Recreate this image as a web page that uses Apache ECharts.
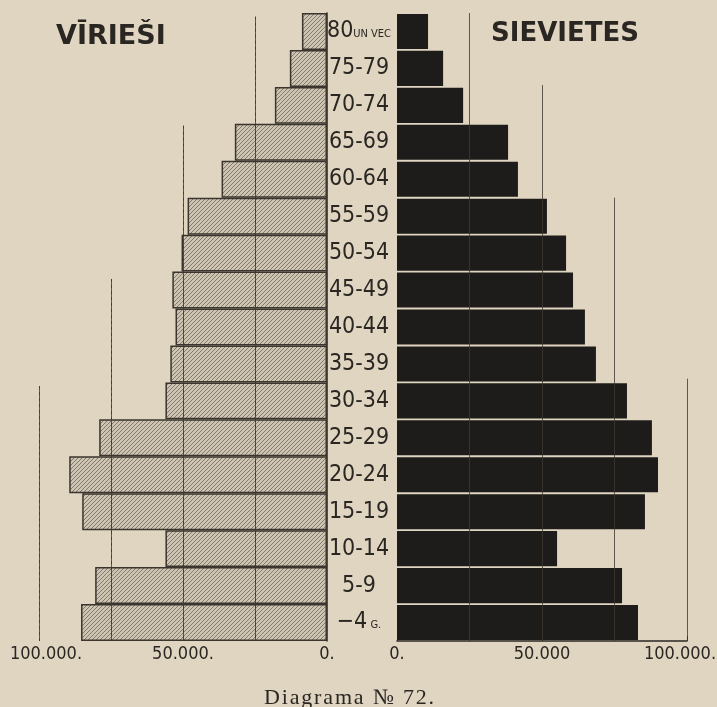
<!DOCTYPE html>
<html>
<head>
<meta charset="utf-8">
<script src="https://cdn.jsdelivr.net/npm/echarts@6/dist/echarts.min.js"></script>
<style>
  html, body { margin: 0; padding: 0; background: #dfd5c1; }
  #chart { width: 717px; height: 707px; }
</style>
</head>
<body>
<div id="chart"></div>
<script>
// age groups, oldest on top
const ages = ['80 un vec', '75-79', '70-74', '65-69', '60-64', '55-59', '50-54', '45-49',
  '40-44', '35-39', '30-34', '25-29', '20-24', '15-19', '10-14', '5-9', '-4 g.']
// vīrieši (men)
const men = [8700, 12900, 18100, 32000, 36600, 48400, 50500, 53700,
  52600, 54400, 56100, 79100, 89500, 85000, 56100, 80500, 85400]
// sievietes (women)
const women = [10700, 15900, 22800, 38300, 41700, 51700, 58300, 60700,
  64800, 68600, 79300, 87900, 90000, 85500, 55200, 77600, 83100]
// bottom tick labels
const menTicks = { 0: '0.', 50000: '50.000.', 100000: '{l|100.000.}' }
const womenTicks = { 0: '0.', 50000: '50.000', 100000: '{r|100.000.}' }

const ink = '#2a2622'
const cond = "'DejaVu Sans Condensed', 'Liberation Sans Narrow', sans-serif"
const hair = '\u200A'

// hatch pattern for the men's bars
function hatch () {
  let c = document.createElement('canvas')
  c.width = 4
  c.height = 4
  let ctx = c.getContext('2d')
  ctx.fillStyle = '#cdc4b2'
  ctx.fillRect(0, 0, 4, 4)
  ctx.strokeStyle = 'rgba(105,96,84,0.75)'
  ctx.lineWidth = 1
  ctx.beginPath()
  ctx.moveTo(-1, 5); ctx.lineTo(5, -1)
  ctx.moveTo(-3, 3); ctx.lineTo(3, -3)
  ctx.moveTo(1, 7); ctx.lineTo(7, 1)
  ctx.stroke()
  return c
}

// vertical reference lines, staggered like in the print (value, top band index)
function refLines (tops) {
  return tops.map(t => [{ coord: [t[0], t[1]] }, { coord: [t[0], 17] }])
}
const leftTops = [[25000, 0.1], [50000, 3.05], [75000, 7.2], [100000, 10.1]]
const rightTops = [[25000, 0], [50000, 1.95], [75000, 5.0], [100000, 9.9]]

const ageLabel = {
  color: ink,
  fontFamily: cond,
  fontSize: 23,
  align: 'center',
  margin: 32,
  formatter: function (v) {
    if (v === '80 un vec') return '{a|80}{b|UN VEC}'
    if (v === '-4 g.') return '{a|−4}{b| G.}'
    return v
  },
  rich: {
    a: { fontFamily: cond, fontSize: 23, color: ink },
    b: { fontFamily: cond, fontSize: 11, color: ink, padding: [6, 0, 0, 0] }
  }
}

const tickFont = {
  margin: 4, color: ink, fontFamily: cond, fontSize: 18,
  rich: {
    l: { fontFamily: cond, fontSize: 18, color: ink, padding: [0, 0, 0, 14] },
    r: { fontFamily: cond, fontSize: 18, color: ink, padding: [0, 14, 0, 0] }
  }
}

let chart = echarts.init(document.getElementById('chart'))
chart.setOption({
  backgroundColor: '#dfd5c1',
  animation: false,
  title: [
    { text: 'VĪRIEŠI', left: 51, top: 18, textStyle: { fontFamily: 'DejaVu Sans', fontWeight: 'bold', fontSize: 27, color: ink } },
    { text: 'SIEVIETES', left: 486, top: 16, textStyle: { fontFamily: 'DejaVu Sans', fontWeight: 'bold', fontSize: 26, color: ink } },
    {
      text: 'Diagrama № 72.'.split('').join(hair),
      left: 259, top: 682,
      textStyle: { fontFamily: 'Liberation Serif', fontWeight: 'normal', fontSize: 22, color: ink }
    }
  ],
  grid: [
    { left: 39, top: 13, width: 288, height: 628, outerBoundsMode: 'none' },
    { left: 397, top: 13, width: 290, height: 628, outerBoundsMode: 'none' }
  ],
  xAxis: [
    {
      gridIndex: 0, type: 'value', min: 0, max: 100000, interval: 25000, inverse: true,
      splitLine: { show: false }, axisLine: { show: false, onZero: false }, axisTick: { show: false },
      axisLabel: Object.assign({ formatter: v => menTicks[v] || '' }, tickFont)
    },
    {
      gridIndex: 1, type: 'value', min: 0, max: 100000, interval: 25000,
      splitLine: { show: false },
      axisLine: { show: true, onZero: false, lineStyle: { color: ink, width: 1.5 } },
      axisTick: { show: true, inside: true, length: 5, lineStyle: { color: ink } },
      axisLabel: Object.assign({ formatter: v => womenTicks[v] || '' }, tickFont)
    }
  ],
  yAxis: [
    {
      gridIndex: 0, type: 'category', data: ages, inverse: true, position: 'right',
      axisLine: { show: true, lineStyle: { color: ink, width: 1.5 } },
      axisTick: { show: false },
      axisLabel: ageLabel
    },
    {
      gridIndex: 1, type: 'category', data: ages, inverse: true,
      axisLine: { show: false }, axisTick: { show: false }, axisLabel: { show: false }
    },
    { gridIndex: 0, type: 'value', min: 0, max: 17, inverse: true, show: false },
    { gridIndex: 1, type: 'value', min: 0, max: 17, inverse: true, show: false }
  ],
  series: [
    {
      name: 'Vīrieši', type: 'bar', xAxisIndex: 0, yAxisIndex: 0, data: men,
      barCategoryGap: '0%', z: 2,
      itemStyle: { color: { image: hatch(), repeat: 'repeat' }, borderColor: '#3b352e', borderWidth: 1.5 }
    },
    {
      name: 'Sievietes', type: 'bar', xAxisIndex: 1, yAxisIndex: 1, data: women,
      barCategoryGap: '5%', z: 2,
      itemStyle: { color: '#1e1c1a' }
    },
    {
      // solid part of the left rules, hidden behind the bars
      type: 'line', xAxisIndex: 0, yAxisIndex: 2, data: [], z: 1, silent: true,
      markLine: {
        symbol: 'none', silent: true, label: { show: false },
        lineStyle: { color: '#3e3830', width: 1, type: 'solid', opacity: 0.8 },
        data: refLines(leftTops)
      }
    },
    {
      // the same rules show through the hatching as dashes
      type: 'line', xAxisIndex: 0, yAxisIndex: 2, data: [], z: 3, silent: true,
      markLine: {
        symbol: 'none', silent: true, label: { show: false },
        lineStyle: { color: '#3e3830', width: 1, type: [3, 3], opacity: 0.8 },
        data: refLines(leftTops)
      }
    },
    {
      type: 'line', xAxisIndex: 1, yAxisIndex: 3, data: [], z: 1, silent: true,
      markLine: {
        symbol: 'none', silent: true, label: { show: false },
        lineStyle: { color: '#3e3830', width: 1, type: 'solid', opacity: 0.8 },
        data: refLines(rightTops)
      }
    }
  ]
})
</script>
</body>
</html>
